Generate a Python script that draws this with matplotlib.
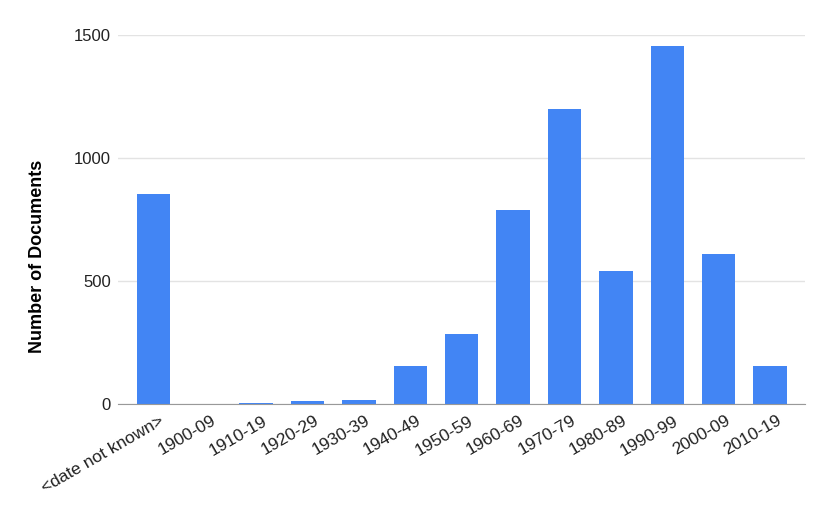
import matplotlib
matplotlib.use("Agg")
import matplotlib.pyplot as plt
import matplotlib.transforms as mtransforms

categories = ["<date not known>", "1900-09", "1910-19", "1920-29", "1930-39", "1940-49",
              "1950-59", "1960-69", "1970-79", "1980-89", "1990-99", "2000-09", "2010-19"]
documents = [853, 1, 5, 12, 18, 155, 285, 789, 1199, 541, 1455, 610, 155]
y_ticks = [0, 500, 1000, 1500]

plt.rcParams['font.family'] = ['Liberation Sans', 'DejaVu Sans']

fig = plt.figure(figsize=(8.3, 5.13), dpi=100)
ax = fig.add_axes([0.142, 0.2125, 0.828, 0.7195])

x = range(len(categories))
ax.bar(x, documents, width=0.65, color="#4285F4", zorder=3)

ax.set_ylim(0, 1500)
ax.set_xlim(-0.69, len(categories) - 0.32)
ax.set_yticks(y_ticks)
ax.set_yticklabels([str(v) for v in y_ticks], fontsize=12, color="#222222")
ax.yaxis.grid(True, color="#e3e3e3", linewidth=1, zorder=0)
ax.tick_params(axis='y', length=0, pad=5)
ax.tick_params(axis='x', length=0, pad=8)
ax.set_xticks(list(x))
ax.set_xticklabels(categories, rotation=30, ha="right", rotation_mode="anchor",
                   fontsize=12.5, color="#222222")
offset = mtransforms.ScaledTranslation(6 / 100, 2 / 100, fig.dpi_scale_trans)
for lbl in ax.get_xticklabels():
    lbl.set_transform(lbl.get_transform() + offset)

for s in ["top", "right", "left"]:
    ax.spines[s].set_visible(False)
ax.spines["bottom"].set_color("#999999")
ax.spines["bottom"].set_zorder(4)

ax.set_ylabel("Number of Documents", fontsize=13, fontweight="bold", color="#000000")
ax.yaxis.set_label_coords(-0.105, 0.40)

fig.savefig("out.png", dpi=100)
